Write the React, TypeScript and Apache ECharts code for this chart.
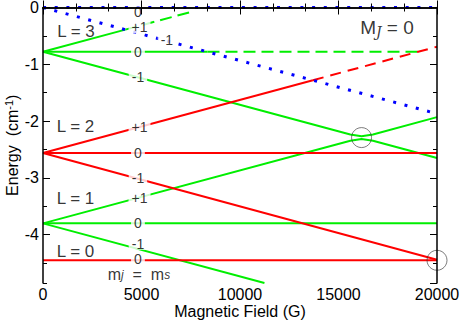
import React, { useEffect, useRef } from "react";
import * as echarts from "echarts";

// ---- data ----
const fieldRange = [0, 20000];
const energyRange = [-4.85, 0];
const xTickInterval = 5000;

const blueZero = [[0, 0], [20000, 0]];
const blueThreshold = [[0, 0], [20000, -1.87]];

const greenSolid = [
  [[0, -0.78], [4180, -0.39]],
  [[0, -0.78], [8350, -0.78]],
  [[0, -0.78], [15600, -2.235], [16170, -2.265], [16750, -2.235], [20000, -1.93]],
  [[0, -3.8], [15600, -2.345], [16170, -2.315], [16750, -2.345], [20000, -2.65]],
  [[0, -3.8], [20000, -3.8]],
  [[0, -3.8], [11240, -4.85]],
];
const greenDashed = [
  [[4180, -0.39], [7600, -0.07]],
  [[8350, -0.78], [19060, -0.78]],
];
const redSolid = [
  [[0, -2.56], [13700, -1.28]],
  [[0, -2.56], [20000, -2.56]],
  [[0, -2.56], [20000, -4.44]],
  [[0, -4.45], [20000, -4.45]],
];
const redDashed = [[[13700, -1.28], [20000, -0.69]]];

const mlLabels = [
  [4820, -0.085, "0"],
  [4900, -0.35, "+1"],
  [6290, -0.575, "-1"],
  [4820, -0.78, "0"],
  [4820, -1.23, "-1"],
  [4900, -2.11, "+1"],
  [4820, -2.56, "0"],
  [4820, -3.01, "-1"],
  [4900, -3.35, "+1"],
  [4820, -3.8, "0"],
  [4820, -4.16, "-1"],
  [4820, -4.43, "0"],
];
const lLabels = [
  [1675, -0.415, "L = 3"],
  [1650, -2.1, "L = 2"],
  [1650, -3.36, "L = 1"],
  [1650, -4.29, "L = 0"],
];
const circles = [[16170, -2.29], [20000, -4.45]];
const mjmsPos = [4870, -4.7];
const MJPos = [17460, -0.36];

const FONT = "Liberation Sans, Arial, Helvetica, sans-serif";

function lineSeries(paths: number[][][], color: string, type: any, width = 2, z = 3) {
  return paths.map((p) => ({
    type: "line",
    data: p,
    symbol: "none",
    clip: true,
    z,
    lineStyle: { color, width, type, cap: "butt" },
  }));
}

export default function App() {
  const ref = useRef<HTMLDivElement>(null);
  useEffect(() => {
    document.body.style.margin = "0";
    const chart = echarts.init(ref.current!, null, { renderer: "svg" });
    const axisCommon = {
      axisLine: { show: true, lineStyle: { color: "#000", width: 1.5 } },
      splitLine: { show: false },
      z: 10,
    };
    const tick = { show: true, inside: true, length: 7, lineStyle: { color: "#000", width: 1 } };
    const minor = { show: true, splitNumber: 3, length: 4, lineStyle: { color: "#000", width: 1 } };
    const option: any = {
      animation: false,
      textStyle: { fontFamily: FONT },
      grid: { left: 43, top: 7.5, width: 394, height: 275.5, containLabel: false, outerBoundsMode: "none" },
      xAxis: [
        {
          ...axisCommon,
          type: "value",
          position: "bottom",
          min: fieldRange[0],
          max: fieldRange[1],
          interval: xTickInterval,
          axisTick: tick,
          minorTick: minor,
          minorSplitLine: { show: false },
          axisLabel: { color: "#000", fontSize: 16, margin: 3, fontFamily: FONT, formatter: (v: number) => String(v) },
          name: "Magnetic Field (G)",
          nameLocation: "middle",
          nameGap: 20,
          nameMoveOverlap: false,
          nameTextStyle: { color: "#000", fontSize: 16, fontFamily: FONT, lineHeight: 16 },
        },
        {
          ...axisCommon,
          type: "value",
          position: "top",
          min: fieldRange[0],
          max: fieldRange[1],
          interval: xTickInterval,
          axisTick: tick,
          minorTick: minor,
          minorSplitLine: { show: false },
          axisLabel: { show: false },
        },
      ],
      yAxis: [
        {
          ...axisCommon,
          type: "value",
          position: "left",
          min: energyRange[0],
          max: energyRange[1],
          splitNumber: 5,
          axisTick: tick,
          axisLabel: { color: "#000", fontSize: 16, margin: 4, showMinLabel: false, fontFamily: FONT, formatter: (v: number) => String(v) },
          name: "{a|Energy  (cm}{b|-1}{a|)}",
          nameLocation: "middle",
          nameRotate: 90,
          nameGap: 22,
          nameMoveOverlap: false,
          nameTextStyle: {
            rich: {
              a: { fontSize: 16, color: "#000", fontFamily: FONT, lineHeight: 18 },
              b: { fontSize: 11, color: "#000", fontFamily: FONT, verticalAlign: "top", lineHeight: 12 },
            },
          },
        },
        {
          type: "value",
          position: "left",
          min: energyRange[0],
          max: energyRange[1],
          splitNumber: 10,
          axisLine: { show: false },
          splitLine: { show: false },
          axisTick: { ...tick, length: 4 },
          axisLabel: { show: false },
          z: 10,
        },
        {
          ...axisCommon,
          type: "value",
          position: "right",
          min: energyRange[0],
          max: energyRange[1],
          splitNumber: 5,
          axisTick: tick,
          axisLabel: { show: false },
        },
        {
          type: "value",
          position: "right",
          min: energyRange[0],
          max: energyRange[1],
          splitNumber: 10,
          axisLine: { show: false },
          splitLine: { show: false },
          axisTick: { ...tick, length: 4 },
          axisLabel: { show: false },
          z: 10,
        },
      ],
      series: [
        ...lineSeries(greenSolid, "#00ee00", "solid"),
        ...lineSeries(greenDashed, "#00ee00", [12, 6]),
        ...lineSeries(redSolid, "#ff0000", "solid", 2, 4),
        ...lineSeries(redDashed, "#ff0000", [11, 7], 2, 4),
        {
          type: "line",
          data: blueZero,
          symbol: "none",
          clip: false,
          z: 5,
          lineStyle: { color: "#0000ff", width: 3, type: [3, 8.7], cap: "butt" },
        },
        {
          type: "line",
          data: blueThreshold,
          symbol: "none",
          clip: false,
          z: 5,
          lineStyle: { color: "#0000ff", width: 3, type: [3, 8.7], cap: "butt" },
        },
        {
          type: "scatter",
          data: mlLabels,
          symbolSize: 1,
          z: 6,
          itemStyle: { color: "rgba(0,0,0,0)" },
          label: {
            show: true,
            position: "inside",
            formatter: (p: any) => p.data[2],
            color: "#000",
            fontSize: 14,
            fontFamily: FONT,
            backgroundColor: "#fff",
            padding: [0, 3],
            lineHeight: 12,
          },
        },
        {
          type: "scatter",
          data: lLabels,
          symbolSize: 1,
          z: 6,
          itemStyle: { color: "rgba(0,0,0,0)" },
          label: {
            show: true,
            position: "inside",
            formatter: (p: any) => p.data[2],
            color: "#000",
            fontSize: 17,
            fontFamily: FONT,
          },
        },
        {
          type: "scatter",
          data: [mjmsPos],
          symbolSize: 1,
          z: 6,
          itemStyle: { color: "rgba(0,0,0,0)" },
          label: {
            show: true,
            position: "inside",
            formatter: "{m|m}{s|j}{m|  =  m}{s|s}",
            rich: {
              m: { fontSize: 16, color: "#000", fontFamily: FONT, lineHeight: 14 },
              s: { fontSize: 12, color: "#000", fontFamily: FONT, fontStyle: "italic", verticalAlign: "bottom", lineHeight: 10 },
            },
          },
        },
        {
          type: "scatter",
          data: [MJPos],
          symbolSize: 1,
          z: 6,
          itemStyle: { color: "rgba(0,0,0,0)" },
          label: {
            show: true,
            position: "inside",
            formatter: "{m|M}{j|J}{m| = 0}",
            rich: {
              m: { fontSize: 19, color: "#000", fontFamily: FONT, lineHeight: 22 },
              j: { fontSize: 14, color: "#000", fontFamily: "DejaVu Serif, serif", fontStyle: "italic", verticalAlign: "bottom", lineHeight: 14 },
            },
          },
        },
        {
          type: "scatter",
          data: circles,
          symbol: "circle",
          symbolSize: 20,
          clip: false,
          z: 7,
          itemStyle: { color: "rgba(0,0,0,0)", borderColor: "#333", borderWidth: 0.8 },
        },
      ],
    };
    chart.setOption(option);
    return () => chart.dispose();
  }, []);
  return (
    <div
      ref={ref}
      style={{ position: "fixed", left: 0, top: 0, width: 463, height: 323, background: "#fff" }}
    />
  );
}
